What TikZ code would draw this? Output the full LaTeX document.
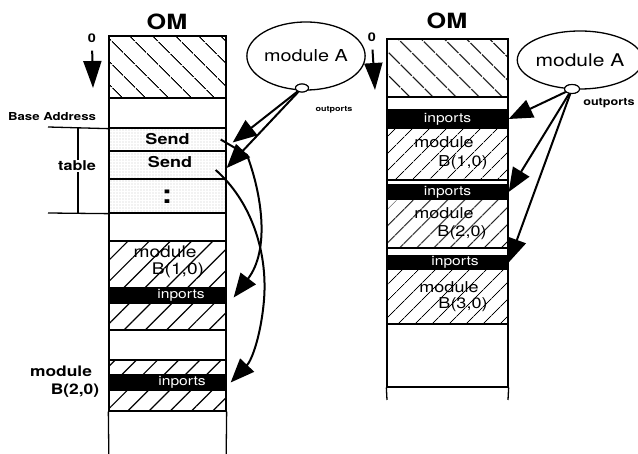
\documentclass[tikz,border=0pt]{standalone}
\usepackage{fontspec}
\setmainfont[FakeStretch=1.2]{TeX Gyre Heros}
\usetikzlibrary{patterns.meta,arrows.meta,shapes.geometric}
\begin{document}
\begin{tikzpicture}[x=1pt,y=-1pt,
  lcell/.style={draw,line width=1.3pt,inner sep=0pt,minimum width=117pt},
  rcell/.style={draw,line width=1.3pt,inner sep=0pt,minimum width=121pt},
  hatchdown/.style={pattern={Lines[angle=-45,distance=17pt,line width=1.3pt]}},
  hatchup/.style={pattern={Lines[angle=45,distance=15pt,line width=1.2pt]}},
  rhatchup/.style={pattern={Lines[angle=45,distance=13pt,line width=1.1pt]}},
  dotfill/.style={pattern={Dots[distance=3pt,radius=0.45pt]},pattern color=black!60},
  inpbox/.style={fill=black,text=white,font=\fontsize{13}{13}\selectfont},
  arrowline/.style={line width=2pt,-{Triangle[length=24pt,width=19pt]}},
  downarrow/.style={line width=2pt,-{Triangle[length=27pt,width=18pt]}},
  plain/.style={inner sep=0pt},
  thinline/.style={line width=1.3pt}
]
\useasboundingbox (0,0) rectangle (638,454);

% ---------------- left column ----------------
\node[plain,font=\bfseries\fontsize{21}{21}\selectfont] (omL) at (167,22) {OM};
\node[lcell,hatchdown,minimum height=62pt] (L0) at (167.5,67) {};
\node[lcell,minimum height=30pt] (L1) at (167.5,113) {};
\node[lcell,dotfill,minimum height=23pt,font=\bfseries\fontsize{15}{15}\selectfont] (send1) at (167.5,139.5) {Send};
\node[lcell,dotfill,minimum height=28pt] (send2) at (167.5,165) {};
\node[plain,font=\bfseries\fontsize{15}{15}\selectfont] (send2t) at (170,162) {Send};
\node[lcell,dotfill,minimum height=34pt] (L4) at (167.5,196) {};
\node[plain,font=\bfseries\fontsize{26}{26}\selectfont] (colon) at (167,197) {:};
\node[lcell,minimum height=28pt] (L5) at (167.5,227) {};
\node[lcell,hatchup,minimum height=47pt] (B1) at (167.5,264.5) {};
\node[plain,font=\fontsize{16}{16}\selectfont] (B1a) at (165,252) {module};
\node[plain,font=\fontsize{16}{16}\selectfont] (B1b) at (178,270) {B(1,0)};
\node[lcell,inpbox,minimum height=15pt] (inp1) at (167.5,295.5) {};
\node[plain,text=white,font=\fontsize{13}{13}\selectfont] (inp1t) at (181,295) {inports};
\node[lcell,hatchup,minimum height=27pt] (L8) at (167.5,316.5) {};
\node[lcell,minimum height=30pt] (L9) at (167.5,345) {};
\node[lcell,hatchup,minimum height=15pt] (L10) at (167.5,367.5) {};
\node[lcell,inpbox,minimum height=15pt] (inp2) at (167.5,382.5) {};
\node[plain,text=white,font=\fontsize{13}{13}\selectfont] (inp2t) at (182,382) {inports};
\node[lcell,hatchup,minimum height=21pt] (L12) at (167.5,400.5) {};
\coordinate (lb1) at (109,470);
\coordinate (lb2) at (226,470);
\draw[thinline] (L12.south west) -- (lb1);
\draw[thinline] (L12.south east) -- (lb2);

% left labels
\node[plain,font=\bfseries\fontsize{12}{12}\selectfont] (zero1) at (92,38) {0};
\coordinate (d1) at (93,88);
\draw[downarrow,shorten <=8pt] (zero1.south) -- (d1);
\node[plain,font=\bfseries\fontsize{11}{11}\selectfont] (base) at (52,117) {Base Address};
\coordinate (ba) at (48,127);
\draw[thinline] (ba) -- (L1.south west);
\coordinate (tb1) at (78,128);
\coordinate (tb2) at (78,213);
\draw[thinline] (tb1) -- (tb2);
\node[fill=white,inner sep=1pt,font=\bfseries\fontsize{13.5}{13.5}\selectfont] (table) at (77,166) {table};
\coordinate (bl) at (48,213);
\draw[thinline] (bl) -- (L4.south west);
\node[plain,font=\bfseries\fontsize{14.5}{14.5}\selectfont] (modL) at (61,371) {module};
\node[plain,font=\bfseries\fontsize{14.5}{14.5}\selectfont] (modLb) at (75,391) {B(2,0)};

% module A left
\node[draw,ellipse,line width=1.3pt,minimum width=96pt,minimum height=68pt,inner sep=0pt,
      font=\fontsize{16.5}{16.5}\selectfont] (mA1) at (306,56) {module A};
\node[plain,font=\bfseries\fontsize{7.5}{7.5}\selectfont] (outL) at (334,110) {outports};

% left arrows
\coordinate (t1) at ([xshift=6pt,yshift=-3pt]send1.east);
\coordinate (t2) at ([yshift=-3pt]send2.east);
\node[draw,ellipse,line width=1.1pt,fill=white,minimum width=13pt,minimum height=8pt,inner sep=0pt] (lop) at (302,88) {};
\draw[arrowline] (lop) -- (t1);
\draw[arrowline] (lop) -- (t2);
\node[draw,ellipse,line width=1.1pt,fill=white,minimum width=13pt,minimum height=8pt,inner sep=0pt] at (lop) {};

% curves
\coordinate (s1) at ([xshift=-6pt]send1.east);
\coordinate (s2) at ([xshift=-11pt,yshift=-5pt]send2.east);
\coordinate (ip1) at ([xshift=7pt,yshift=-2pt]inp1.east);
\coordinate (ip2) at ([xshift=4pt]inp2.east);
\draw[arrowline] (s1) -- (247,155) .. controls (262,195) and (270,250) .. (ip1);
\draw[arrowline] (s2) .. controls (250,200) and (268,250) .. (264,300)
   .. controls (261,335) and (252,360) .. (ip2);

% ---------------- right column ----------------
\node[plain,font=\bfseries\fontsize{21}{21}\selectfont] (omR) at (447,21) {OM};
\node[rcell,hatchdown,minimum height=58pt] (R0) at (447.5,68) {};
\node[rcell,minimum height=13pt] (R1) at (447.5,103.5) {};
\node[rcell,inpbox,minimum height=18pt] (rinp1) at (447.5,119) {inports};
\node[rcell,rhatchup,minimum height=52pt] (RB1) at (447.5,154) {};
\node[plain,font=\fontsize{15}{15}\selectfont] (RB1a) at (444,142) {module};
\node[plain,font=\fontsize{15}{15}\selectfont] (RB1b) at (463,163) {B(1,0)};
\node[rcell,minimum height=5pt] (R4) at (447.5,182.5) {};
\node[rcell,inpbox,minimum height=14pt] (rinp2) at (447.5,192) {inports};
\node[rcell,rhatchup,minimum height=49pt] (RB2) at (447.5,223.5) {};
\node[plain,font=\fontsize{15}{15}\selectfont] (RB2a) at (444,213) {module};
\node[plain,font=\fontsize{15}{15}\selectfont] (RB2b) at (462,233) {B(2,0)};
\node[rcell,minimum height=8pt] (R7) at (447.5,252) {};
\node[rcell,inpbox,minimum height=13pt] (rinp3) at (447.5,262.5) {};
\node[plain,text=white,font=\fontsize{13}{13}\selectfont] (rinp3t) at (455,262) {inports};
\node[rcell,rhatchup,minimum height=55pt] (RB3) at (447.5,296.5) {};
\node[plain,font=\fontsize{15}{15}\selectfont] (RB3a) at (449,287) {module};
\node[plain,font=\fontsize{15}{15}\selectfont] (RB3b) at (463,305) {B(3,0)};
\node[rcell,minimum height=63pt] (R9) at (447.5,355.5) {};
\coordinate (rb1) at (387,400);
\coordinate (rb2) at (508,400);
\draw[thinline] (R9.south west) -- (rb1);
\draw[thinline] (R9.south east) -- (rb2);

\node[plain,font=\bfseries\fontsize{12}{12}\selectfont] (zero2) at (372,37) {0};
\coordinate (d2) at (375,90);
\draw[downarrow,shorten <=8pt] (zero2.south) -- (d2);

% module A right
\node[draw,ellipse,line width=1.3pt,minimum width=106pt,minimum height=58pt,inner sep=0pt,
      font=\fontsize{17.5}{17.5}\selectfont] (mA2) at (580,60) {module A};
\node[plain,font=\bfseries\fontsize{10.5}{10.5}\selectfont] (outR) at (609,103) {outports};
\node[draw,ellipse,line width=1.1pt,fill=white,minimum width=15pt,minimum height=9pt,inner sep=0pt] (rop) at (572,89) {};
\draw[arrowline] (rop) -- (rinp1.east);
\draw[arrowline] (rop) -- (rinp2.east);
\draw[arrowline] (rop) -- (rinp3.east);
\node[draw,ellipse,line width=1.1pt,fill=white,minimum width=15pt,minimum height=9pt,inner sep=0pt] at (rop) {};
\end{tikzpicture}
\end{document}
